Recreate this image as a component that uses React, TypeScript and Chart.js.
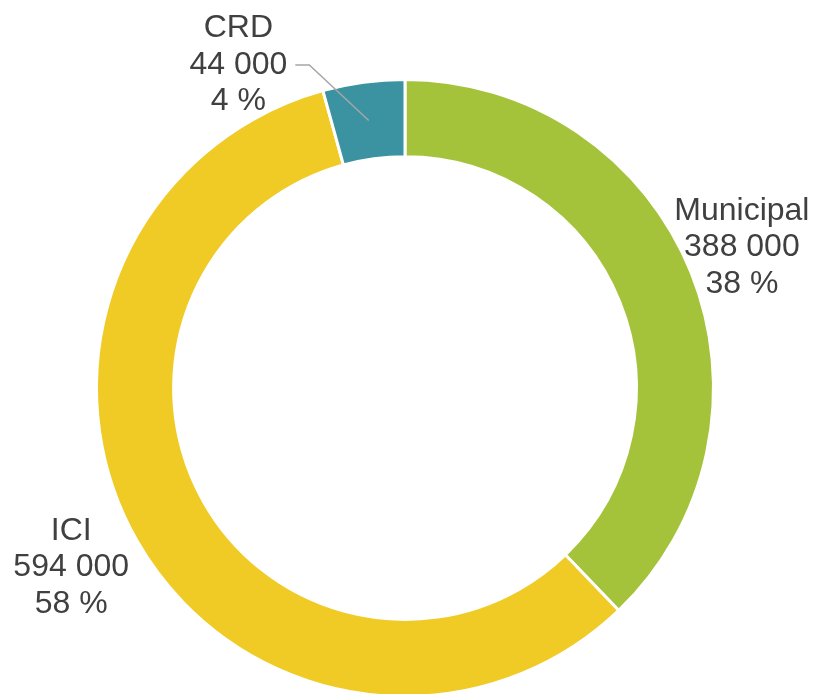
import React, { useEffect, useRef } from "react";
import { Chart, registerables } from "chart.js";

Chart.register(...registerables);

const categories = ["Municipal", "ICI", "CRD"];
const values = [388000, 594000, 44000];
const valueLabels = ["388 000", "594 000", "44 000"];
const percentLabels = ["38 %", "58 %", "4 %"];
const colors = ["#A5C33A", "#F0CA25", "#3B93A1"];

// label placement relative to chart center, in units of outer radius
const labelOffsets = [
  { dx: 1.092, dy: -0.455, leader: false },
  { dx: -1.082, dy: 0.581, leader: false },
  { dx: -0.54, dy: -1.047, leader: true },
];

const labelPlugin = {
  id: "outerLabels",
  afterDraw(chart: any) {
    const ctx = chart.ctx;
    const meta = chart.getDatasetMeta(0);
    ctx.save();
    ctx.font = "32px 'Liberation Sans', Arial, sans-serif";
    ctx.fillStyle = "#404040";
    ctx.textAlign = "center";
    ctx.textBaseline = "middle";
    const lh = 36.5;
    meta.data.forEach((arc: any, i: number) => {
      const { x, y, outerRadius, innerRadius, startAngle, endAngle } = arc.getProps(
        ["x", "y", "outerRadius", "innerRadius", "startAngle", "endAngle"],
        true
      );
      const off = labelOffsets[i];
      const lx = x + off.dx * outerRadius;
      const ly = y + off.dy * outerRadius;
      const lines = [categories[i], valueLabels[i], percentLabels[i]];
      lines.forEach((t, k) => ctx.fillText(t, lx, ly + (k - 1) * lh));
      if (off.leader) {
        const w = ctx.measureText(valueLabels[i]).width;
        const sx = lx + w / 2 + 8;
        const mid = (startAngle + endAngle) / 2;
        const r = (outerRadius + innerRadius) / 2;
        const px = x + Math.cos(mid) * r;
        const py = y + Math.sin(mid) * r;
        ctx.strokeStyle = "#A6A6A6";
        ctx.lineWidth = 1.5;
        ctx.beginPath();
        ctx.moveTo(sx, ly);
        ctx.lineTo(sx + 14, ly);
        ctx.lineTo(px, py);
        ctx.stroke();
      }
    });
    ctx.restore();
  },
};

export default function App() {
  const ref = useRef<HTMLCanvasElement>(null);
  useEffect(() => {
    if (!ref.current) return;
    const chart = new Chart(ref.current, {
      type: "doughnut",
      data: {
        labels: categories,
        datasets: [
          {
            data: values,
            backgroundColor: colors,
            borderColor: "#FFFFFF",
            borderWidth: 3,
          },
        ],
      },
      options: {
        responsive: false,
        animation: false,
        cutout: "75%",
        layout: { padding: { top: 78, bottom: 22, left: 95, right: 100 } },
        plugins: {
          legend: { display: false },
          tooltip: { enabled: false },
          title: { display: false },
        },
      },
      plugins: [labelPlugin],
    });
    return () => chart.destroy();
  }, []);
  return (
    <div
      style={{
        position: "absolute",
        left: 0,
        top: 0,
        width: 815,
        height: 694,
        overflow: "hidden",
        background: "#fff",
      }}
    >
      <canvas ref={ref} width={815} height={720} style={{ width: 815, height: 720, display: "block" }} />
    </div>
  );
}
